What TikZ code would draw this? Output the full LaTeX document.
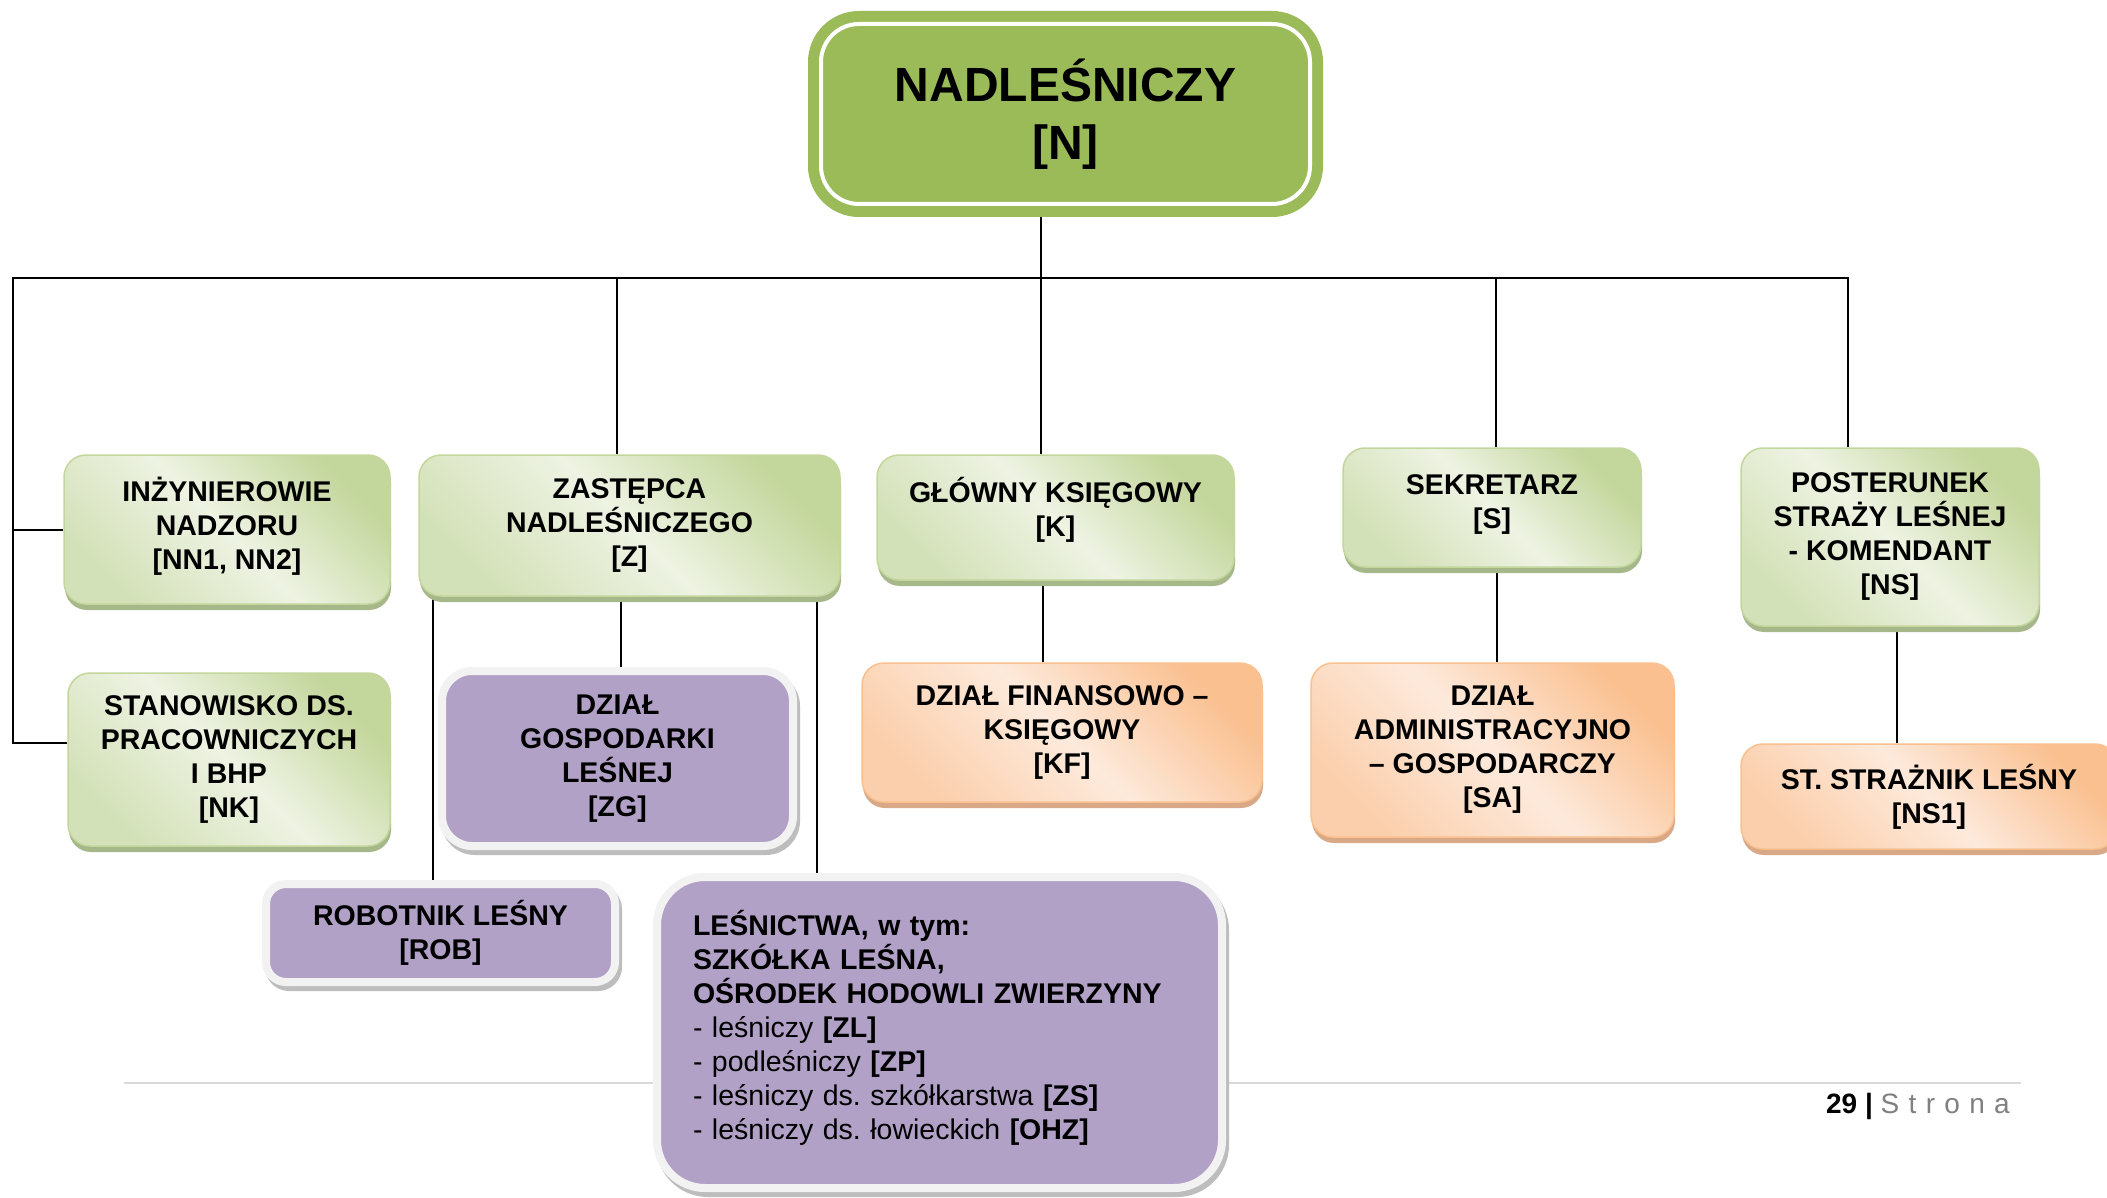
\documentclass[tikz,border=0pt]{standalone}
\usepackage{fontspec}
\setmainfont{Liberation Sans}
\usetikzlibrary{shadows}
\frenchspacing
\pgfdeclarelayer{back}
\pgfdeclarelayer{bg}
\pgfsetlayers{back,bg,main}
\definecolor{topgreen}{HTML}{9BBB59}
\definecolor{gdark}{HTML}{C3D69B}
\definecolor{gmid}{HTML}{D3E1B8}
\definecolor{glight}{HTML}{EEF3E3}
\definecolor{gshadow}{HTML}{A6B88A}
\definecolor{odark}{HTML}{FAC090}
\definecolor{omid}{HTML}{FBCFAC}
\definecolor{olight}{HTML}{FDEADC}
\definecolor{oshadow}{HTML}{D9A886}
\definecolor{purp}{HTML}{B2A1C7}
\definecolor{pborder}{HTML}{F2F2F2}
\definecolor{pshadow}{HTML}{BDBDBD}
\definecolor{footgray}{HTML}{808080}
\definecolor{footline}{HTML}{D9D9D9}
\pgfdeclarehorizontalshading{gshade}{100bp}{color(0bp)=(gmid); color(25bp)=(gmid); color(50bp)=(glight); color(75bp)=(gdark); color(100bp)=(gdark)}
\pgfdeclarehorizontalshading{oshade}{100bp}{color(0bp)=(omid); color(25bp)=(omid); color(50bp)=(olight); color(75bp)=(odark); color(100bp)=(odark)}
\begin{document}
\begin{tikzpicture}[x=1pt,y=-1pt,
  conn/.style={draw=black, line width=2pt},
  boxbase/.style={rounded corners=22pt, line width=1.5pt, shading angle=45, align=center, inner sep=0pt,
    font=\bfseries\fontsize{28.5}{34}\selectfont},
  gbox/.style={boxbase, draw=gdark, shading=gshade,
    general shadow={fill=gshadow, shadow xshift=1pt, shadow yshift=-6pt}},
  obox/.style={boxbase, draw=odark, shading=oshade,
    general shadow={fill=oshadow, shadow xshift=1pt, shadow yshift=-6pt}},
  pbox/.style={rounded corners=30pt, fill=purp, draw=pborder, line width=8pt,
    general shadow={fill=pshadow, draw=pshadow, line width=8pt, shadow xshift=3pt, shadow yshift=-5pt},
    align=center, inner sep=0pt, font=\bfseries\fontsize{28.5}{34}\selectfont},
  topbox/.style={rounded corners=38pt, fill=topgreen, draw=white, line width=4pt,
    preaction={draw=topgreen, line width=26pt, rounded corners=38pt},
    align=center, inner sep=0pt, font=\bfseries\fontsize{48}{58}\selectfont}
]
\useasboundingbox (0,0) rectangle (2107,1198);
\begin{pgfonlayer}{back}
  \fill[white] (0,0) rectangle (2107,1198);
\end{pgfonlayer}

% nodes
\node[topbox, minimum width=489pt, minimum height=180pt] (N) at (1065.5,114) {NADLEŚNICZY\\{[N]}};
\node[gbox, minimum width=326pt, minimum height=149pt] (INZ) at (227,529.5) {INŻYNIEROWIE\\NADZORU\\{[NN1, NN2]}\\[-22pt]\mbox{}};
\node[gbox, minimum width=421pt, minimum height=141pt] (Z) at (629.5,525.5) {ZASTĘPCA\\NADLEŚNICZEGO\\{[Z]}};
\node[gbox, minimum width=357pt, minimum height=125pt] (GK) at (1055.5,517.5) {GŁÓWNY KSIĘGOWY\\{[K]}\\[-12pt]\mbox{}};
\node[gbox, minimum width=298pt, minimum height=119pt] (SEK) at (1492,507.5) {SEKRETARZ\\{[S]}\\[-22pt]\mbox{}};
\node[gbox, minimum width=298pt, minimum height=178pt] (POST) at (1890,537) {POSTERUNEK\\STRAŻY LEŚNEJ\\- KOMENDANT\\{[NS]}};
\node[gbox, minimum width=322pt, minimum height=173pt] (STAN) at (229,759.5) {STANOWISKO DS.\\PRACOWNICZYCH\\I BHP\\{[NK]}};
\node[pbox, minimum width=351pt, minimum height=175pt] (ZG) at (617.5,758.5) {DZIAŁ\\GOSPODARKI\\LEŚNEJ\\{[ZG]}};
\node[obox, minimum width=400pt, minimum height=139pt] (KF) at (1062,732.5) {DZIAŁ FINANSOWO –\\KSIĘGOWY\\{[KF]}};
\node[obox, minimum width=363pt, minimum height=174pt] (SA) at (1492.5,750) {DZIAŁ\\ADMINISTRACYJNO\\– GOSPODARCZY\\{[SA]}};
\node[obox, minimum width=376pt, minimum height=105pt] (ST) at (1929,796.5) {ST. STRAŻNIK LEŚNY\\{[NS1]}};
\node[pbox, rounded corners=20pt, minimum width=349pt, minimum height=98pt] (ROB) at (440.5,933) {ROBOTNIK LEŚNY\\{[ROB]}};
\node[pbox, rounded corners=48pt, minimum width=565pt, minimum height=311pt, align=left, text width=493pt,
  font=\fontsize{28.5}{34}\selectfont] (LES) at (939.5,1032.5)
  {\textbf{LEŚNICTWA, w tym:}\\
   \textbf{SZKÓŁKA LEŚNA,}\\
   \textbf{OŚRODEK HODOWLI ZWIERZYNY}\\
   - leśniczy \textbf{[ZL]}\\
   - podleśniczy \textbf{[ZP]}\\
   - leśniczy ds. szkółkarstwa \textbf{[ZS]}\\
   - leśniczy ds. łowieckich \textbf{[OHZ]}\\[-18pt]\mbox{}};

\node[anchor=base east, inner sep=0pt, font=\fontsize{28}{30}\selectfont] (page) at (2010,1113)
  {\textbf{29 |} \textcolor{footgray}{S\,\,t\,\,r\,\,o\,\,n\,\,a}};

% connectors
\coordinate (busL) at (13,278);
\coordinate (busR) at (1848,278);
\coordinate (xZ) at (617,278);
\coordinate (xN) at (1041,278);
\coordinate (xS) at (1496,278);
\coordinate (bS) at (13,743);
\coordinate (xR) at (433,0);
\coordinate (xG) at (621,0);
\coordinate (xL) at (817,0);
\coordinate (xK) at (1043,0);
\coordinate (xA) at (1497,0);
\coordinate (xT) at (1897,0);
\coordinate (fl) at (124,1083);
\coordinate (fr) at (2021,1083);
\begin{pgfonlayer}{bg}
  \draw[footline, line width=2pt] (fl) -- (fr);
  \draw[conn] (INZ.west) -- (INZ.west-|busL);
  \draw[conn] (bS-|STAN.west) -- (bS) -- (busL) -- (busR) -- (busR|-POST.north);
  \draw[conn] (xZ) -- (xZ|-Z.north);
  \draw[conn] (xN|-N.south) -- (xN|-GK.north);
  \draw[conn] (xS) -- (xS|-SEK.north);
  \draw[conn] (xR|-Z.south) -- (xR|-ROB.north);
  \draw[conn] (xG|-Z.south) -- (xG|-ZG.north);
  \draw[conn] (xL|-Z.south) -- (xL|-LES.north);
  \draw[conn] (xK|-GK.south) -- (xK|-KF.north);
  \draw[conn] (xA|-SEK.south) -- (xA|-SA.north);
  \draw[conn] (xT|-POST.south) -- (xT|-ST.north);
\end{pgfonlayer}
\end{tikzpicture}
\end{document}
